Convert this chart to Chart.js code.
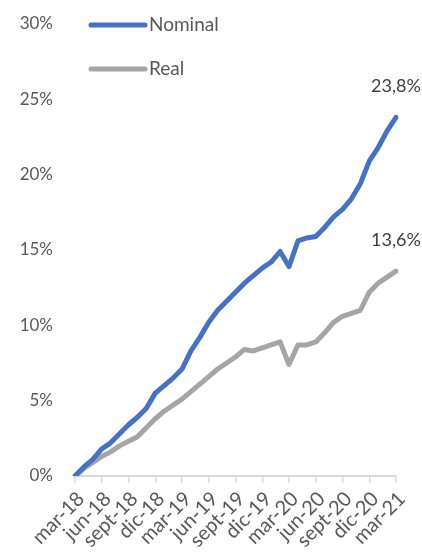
<!DOCTYPE html>
<html>
<head>
<meta charset="utf-8">
<script src="https://cdn.jsdelivr.net/npm/chart.js@4.4.0/dist/chart.umd.min.js"></script>
<style>
  html, body { margin: 0; padding: 0; background: #fff; }
  #wrap { width: 422px; height: 552px; }
</style>
</head>
<body>
<div id="wrap"><canvas id="chart"></canvas></div>
<script>
const months = ['mar-18','abr-18','may-18','jun-18','jul-18','ago-18','sept-18','oct-18','nov-18','dic-18','ene-19','feb-19',
  'mar-19','abr-19','may-19','jun-19','jul-19','ago-19','sept-19','oct-19','nov-19','dic-19','ene-20','feb-20',
  'mar-20','abr-20','may-20','jun-20','jul-20','ago-20','sept-20','oct-20','nov-20','dic-20','ene-21','feb-21','mar-21'];

const nominal = [0, 0.6, 1.1, 1.8, 2.2, 2.8, 3.4, 3.9, 4.5, 5.5, 6.0, 6.5,
  7.1, 8.3, 9.2, 10.2, 11.0, 11.6, 12.2, 12.8, 13.3, 13.8, 14.2, 14.9,
  13.9, 15.6, 15.8, 15.9, 16.5, 17.2, 17.7, 18.4, 19.4, 20.9, 21.8, 22.9, 23.8];

const real = [0, 0.5, 0.9, 1.3, 1.6, 2.0, 2.3, 2.6, 3.2, 3.8, 4.3, 4.7,
  5.1, 5.6, 6.1, 6.6, 7.1, 7.5, 7.9, 8.4, 8.3, 8.5, 8.7, 8.9,
  7.4, 8.7, 8.7, 8.9, 9.5, 10.2, 10.6, 10.8, 11.0, 12.2, 12.8, 13.2, 13.6];

const seriesNames = ['Nominal', 'Real'];
const seriesColors = ['#4472C4', '#A5A5A5'];
const FONT = 'Lato, "Open Sans", sans-serif';
const TEXT = '#595959';

// legend drawn in the top-left of the plot, stacked
const legendPlugin = {
  id: 'sideLegend',
  afterDraw(chart) {
    const ctx = chart.ctx;
    ctx.save();
    chart.data.datasets.forEach((ds, i) => {
      const y = 25 + i * 44;
      ctx.strokeStyle = ds.borderColor;
      ctx.lineWidth = 5;
      ctx.lineCap = 'round';
      ctx.beginPath();
      ctx.moveTo(91, y);
      ctx.lineTo(145, y);
      ctx.stroke();
      ctx.fillStyle = TEXT;
      ctx.font = '19px ' + FONT;
      ctx.textBaseline = 'middle';
      ctx.textAlign = 'left';
      ctx.fillText(ds.label, 149, y);
    });
    ctx.restore();
  }
};

// value label above the last point of each line
const endLabels = {
  id: 'endLabels',
  afterDatasetsDraw(chart) {
    const ctx = chart.ctx;
    ctx.save();
    ctx.fillStyle = '#404040';
    ctx.font = '18px ' + FONT;
    ctx.textAlign = 'center';
    ctx.textBaseline = 'bottom';
    chart.data.datasets.forEach((ds, i) => {
      const meta = chart.getDatasetMeta(i);
      const last = meta.data[meta.data.length - 1];
      const v = ds.data[ds.data.length - 1];
      ctx.fillText(v.toFixed(1).replace('.', ',') + '%', last.x, last.y - 22);
    });
    ctx.restore();
  }
};

new Chart(document.getElementById('chart'), {
  type: 'line',
  data: {
    labels: months,
    datasets: [
      { label: seriesNames[0], data: nominal, borderColor: seriesColors[0], borderWidth: 5, pointRadius: 0, tension: 0, borderCapStyle: 'round', borderJoinStyle: 'round' },
      { label: seriesNames[1], data: real, borderColor: seriesColors[1], borderWidth: 5, pointRadius: 0, tension: 0, borderCapStyle: 'round', borderJoinStyle: 'round' }
    ]
  },
  options: {
    responsive: true,
    maintainAspectRatio: false,
    animation: false,
    layout: { padding: { left: 0, right: 26, top: 24, bottom: 0 } },
    plugins: {
      legend: { display: false },
      tooltip: { enabled: false }
    },
    scales: {
      x: {
        offset: false,
        grid: { drawOnChartArea: false, drawTicks: true, tickLength: 7, color: '#D9D9D9', lineWidth: 1.5 },
        border: { color: '#D9D9D9', width: 2 },
        ticks: {
          autoSkip: false,
          maxRotation: 45,
          minRotation: 45,
          color: TEXT,
          font: { family: FONT, size: 20 },
          padding: 4,
          labelOffset: 6,
          callback: function (val, idx) { return idx % 3 === 0 ? this.getLabelForValue(val) : null; }
        },
        afterFit: s => { s.height = 76; }
      },
      y: {
        min: 0,
        max: 30,
        grid: { display: false, drawTicks: false },
        border: { display: false },
        ticks: {
          stepSize: 5,
          color: TEXT,
          font: { family: FONT, size: 17 },
          padding: 22,
          callback: v => v + '%'
        },
        afterFit: s => { s.width = 75; s.paddingTop = 0; s.paddingBottom = 0; }
      }
    }
  },
  plugins: [legendPlugin, endLabels]
});
</script>
</body>
</html>
